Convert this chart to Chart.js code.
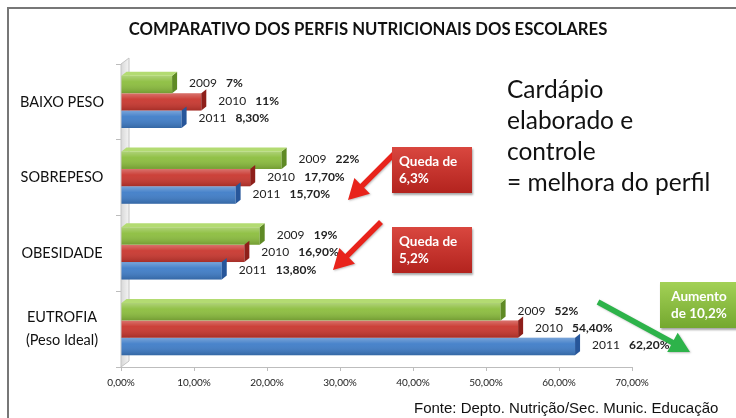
<!DOCTYPE html>
<html>
<head>
<meta charset="utf-8">
<script src="https://cdn.jsdelivr.net/npm/chart.js@4/dist/chart.umd.min.js"></script>
<style>
  body { margin: 0; background: #fff; }
  #wrap { position: relative; width: 736px; height: 418px; overflow: hidden; }
  #frame { position: absolute; left: 7px; top: 7px; width: 740px; height: 420px;
           border-left: 2px solid #777; border-top: 2px solid #777; box-sizing: border-box; }
  canvas { position: absolute; left: 0; top: 0; }
  .txt { position: absolute; font-family: Lato, sans-serif; white-space: nowrap; }
  #titulo { left: 0; width: 736px; top: 19px; text-align: center; font-weight: bold; font-size: 16.7px; color: #111; }
  #nota { left: 507px; top: 73px; font-size: 24.5px; line-height: 31px; color: #111; }
  .caixa { position: absolute; color: #fff; font-family: Lato, sans-serif; font-weight: bold;
           font-size: 13.5px; line-height: 17px; box-sizing: border-box; box-shadow: 1px 2px 2px rgba(0,0,0,0.35); }
  .vermelha { background: linear-gradient(#d9473f, #b3231e); padding: 6px 0 0 7px; }
  .verde { background: linear-gradient(#a3d156, #74a82f); text-align: center; padding: 6px 0 0 0; }
  #fonte { left: 414px; top: 399px; font-family: "Liberation Sans", Arial, sans-serif; font-size: 15px; color: #111; }
</style>
</head>
<body>
<div id="wrap">
  <div id="frame"></div>
  <canvas id="grafico" width="736" height="418"></canvas>
  <div class="txt" id="titulo">COMPARATIVO DOS PERFIS NUTRICIONAIS DOS ESCOLARES</div>
  <div class="txt" id="nota">Cardápio<br>elaborado e<br>controle<br>= melhora do perfil</div>
  <div class="caixa vermelha" style="left:392px;top:147px;width:80px;height:46px">Queda de<br>6,3%</div>
  <div class="caixa vermelha" style="left:392px;top:227px;width:80px;height:46px">Queda de<br>5,2%</div>
  <div class="caixa verde" style="left:660px;top:282px;width:78px;height:46px">Aumento<br>de 10,2%</div>
  <div class="txt" id="fonte">Fonte: Depto. Nutrição/Sec. Munic. Educação</div>
</div>
<script>
const categorias = ["BAIXO PESO", "SOBREPESO", "OBESIDADE", ["EUTROFIA", "(Peso Ideal)"]];
const anos = ["2009", "2010", "2011"];
const valores2009 = [7, 22, 19, 52];
const valores2010 = [11, 17.7, 16.9, 54.4];
const valores2011 = [8.3, 15.7, 13.8, 62.2];
const cores = ["#8cbe3e", "#c9372f", "#3f7dc8"];
const coresLado = ["#5f8a25", "#8e1f1a", "#27569a"];
const coresTopo = ["#b3db72", "#e07068", "#7aa7e0"];

// setas: [xCauda, yCauda, xPonta, yPonta, cor]
const setas = [
    [397, 151, 348, 200, "#e8231b"],
    [381, 222, 333, 270, "#e8231b"],
    [598, 302, 690, 352, "#2db34a"]
];

function fmtValor(v) {
    return Number.isInteger(v) ? v + "%" : v.toFixed(2).replace(".", ",") + "%";
}

function desenhaSeta(ctx, x1, y1, x2, y2, cor) {
    const dx = x2 - x1, dy = y2 - y1;
    const len = Math.hypot(dx, dy);
    const ux = dx / len, uy = dy / len;
    const px = -uy, py = ux;
    const haste = 2.8, cabecaL = 20, cabecaW = 11;
    const bx = x2 - ux * cabecaL, by = y2 - uy * cabecaL;
    ctx.save();
    ctx.fillStyle = cor;
    ctx.shadowColor = "rgba(0,0,0,0.25)";
    ctx.shadowOffsetX = 1;
    ctx.shadowOffsetY = 1;
    ctx.shadowBlur = 2;
    ctx.beginPath();
    ctx.moveTo(x1 + px * haste, y1 + py * haste);
    ctx.lineTo(bx + px * haste, by + py * haste);
    ctx.lineTo(bx + px * cabecaW, by + py * cabecaW);
    ctx.lineTo(x2, y2);
    ctx.lineTo(bx - px * cabecaW, by - py * cabecaW);
    ctx.lineTo(bx - px * haste, by - py * haste);
    ctx.lineTo(x1 - px * haste, y1 - py * haste);
    ctx.closePath();
    ctx.fill();
    ctx.restore();
}

const efeito3d = {
    id: "efeito3d",
    beforeDatasetsDraw(chart) {
        const { ctx, chartArea } = chart;
        const x0 = chartArea.left;
        ctx.save();
        const g = ctx.createLinearGradient(x0, 0, x0 + 9, 0);
        g.addColorStop(0, "#d8d8d8");
        g.addColorStop(1, "#f7f7f7");
        ctx.fillStyle = g;
        ctx.beginPath();
        ctx.moveTo(x0, chartArea.bottom);
        ctx.lineTo(x0, chartArea.top);
        ctx.lineTo(x0 + 8, chartArea.top - 6);
        ctx.lineTo(x0 + 8, chartArea.bottom - 6);
        ctx.closePath();
        ctx.fill();
        ctx.strokeStyle = "#c4c4c4";
        ctx.lineWidth = 1;
        ctx.stroke();
        ctx.restore();
    },
    afterDatasetsDraw(chart) {
        const { ctx } = chart;
        ctx.save();
        chart.data.datasets.forEach((ds, i) => {
            chart.getDatasetMeta(i).data.forEach((bar) => {
                const top = bar.y - bar.height / 2, bot = bar.y + bar.height / 2;
                const g = ctx.createLinearGradient(0, top, 0, bot);
                g.addColorStop(0, "rgba(255,255,255,0.30)");
                g.addColorStop(0.35, "rgba(255,255,255,0.05)");
                g.addColorStop(1, "rgba(0,0,0,0.18)");
                ctx.fillStyle = g;
                ctx.fillRect(bar.base, top, bar.x - bar.base, bot - top);
                ctx.fillStyle = coresLado[i];
                ctx.beginPath();
                ctx.moveTo(bar.x, top);
                ctx.lineTo(bar.x + 5, top - 4);
                ctx.lineTo(bar.x + 5, bot - 4);
                ctx.lineTo(bar.x, bot);
                ctx.closePath();
                ctx.fill();
                if (i === 0) {
                    ctx.fillStyle = coresTopo[i];
                    ctx.beginPath();
                    ctx.moveTo(bar.base, top);
                    ctx.lineTo(bar.base + 5, top - 4);
                    ctx.lineTo(bar.x + 5, top - 4);
                    ctx.lineTo(bar.x, top);
                    ctx.closePath();
                    ctx.fill();
                }
            });
        });
        // rótulos
        ctx.textBaseline = "middle";
        ctx.fillStyle = "#222";
        chart.data.datasets.forEach((ds, i) => {
            chart.getDatasetMeta(i).data.forEach((bar, j) => {
                const x = bar.x + 17;
                ctx.font = "12px Lato, sans-serif";
                ctx.fillText(anos[i], x, bar.y - 1);
                ctx.font = "bold 12px Lato, sans-serif";
                ctx.fillText(fmtValor(ds.data[j]), x + 37, bar.y - 1);
            });
        });
        setas.forEach(s => desenhaSeta(ctx, s[0], s[1], s[2], s[3], s[4]));
        ctx.restore();
    }
};

new Chart(document.getElementById("grafico"), {
    type: "bar",
    data: {
        labels: categorias,
        datasets: [
            { label: anos[0], data: valores2009, backgroundColor: cores[0] },
            { label: anos[1], data: valores2010, backgroundColor: cores[1] },
            { label: anos[2], data: valores2011, backgroundColor: cores[2] }
        ]
    },
    options: {
        indexAxis: "y",
        responsive: false,
        animation: false,
        layout: { padding: { left: 8, right: 104, top: 64, bottom: 21 } },
        datasets: { bar: { categoryPercentage: 0.69, barPercentage: 1.0 } },
        plugins: { legend: { display: false }, tooltip: { enabled: false }, title: { display: false } },
        scales: {
            x: {
                min: 0,
                max: 70,
                afterFit(scale) { scale.height = 30; },
                ticks: {
                    stepSize: 10,
                    padding: 6,
                    color: "#222",
                    font: { family: "Lato", size: 10 },
                    callback: (v) => v.toFixed(2).replace(".", ",") + "%"
                },
                grid: { drawOnChartArea: false, tickLength: 4, color: "#bdbdbd" },
                border: { color: "#bdbdbd" }
            },
            y: {
                afterFit(scale) { scale.width = 113; },
                ticks: {
                    crossAlign: "center",
                    padding: 12,
                    color: "#111",
                    font: { family: "Lato", size: 14.5, lineHeight: 1.6 }
                },
                grid: { drawOnChartArea: false, tickLength: 5, color: "#bdbdbd" },
                border: { color: "#bdbdbd" }
            }
        }
    },
    plugins: [efeito3d]
});
</script>
</body>
</html>
